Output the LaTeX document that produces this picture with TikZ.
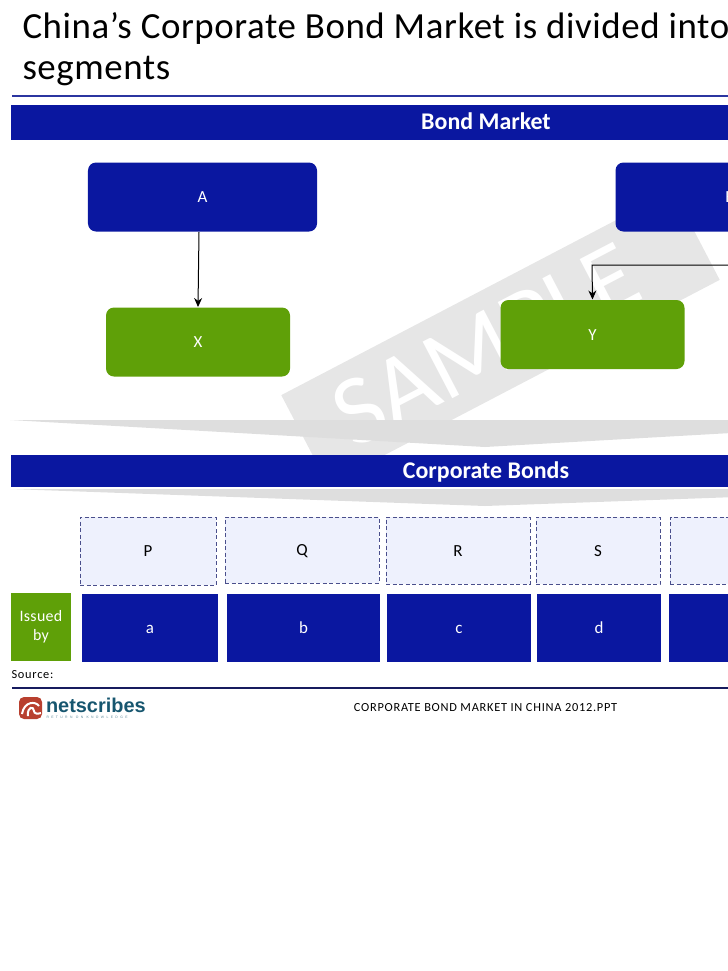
\documentclass[tikz,border=0pt]{standalone}
\usepackage{fontspec}
\setmainfont{Carlito}
\newfontfamily\logofont{Liberation Sans}
\usetikzlibrary{arrows.meta, positioning}
\definecolor{cnavy}{HTML}{0A17A0}
\definecolor{cgreen}{HTML}{5FA008}
\definecolor{cdash}{HTML}{4A4F8C}
\definecolor{cpale}{HTML}{EEF1FD}
\definecolor{cshade}{HTML}{DEDEDE}
\definecolor{cmark}{HTML}{E6E6E6}
\definecolor{crule}{HTML}{2B35A0}
\definecolor{cfoot}{HTML}{161B5E}
\definecolor{cred}{HTML}{B8402F}
\definecolor{cteal}{HTML}{17566F}
\tikzset{
  every picture/.style={x=1bp, y=-1bp, line width=1bp},
  label/.style={font=\fontsize{17}{20}\selectfont, text height=11bp, text depth=0bp, inner sep=0pt},
  band/.style={fill=cnavy, text=white, font=\fontsize{24}{28}\selectfont\bfseries, text height=17bp, text depth=2bp, minimum height=#1, inner sep=0pt},
  band/.default=35bp,
  bluebox/.style={label, fill=cnavy, text=white, rounded corners=8bp, minimum width=229bp, minimum height=69bp},
  greenbox/.style={label, fill=cgreen, text=white, rounded corners=8bp, minimum height=69bp},
  segbox/.style={label, fill=cpale, draw=cdash, dash pattern=on 4bp off 2.5bp, line width=0.9bp},
  issuebox/.style={label, fill=cnavy, text=white},
  shade/.style={fill=cshade, draw=none},
  arrow/.style={-{Stealth[length=9bp, width=8bp]}, draw=black, line width=1bp},
  note/.style={font=\fontsize{12.4}{14}\selectfont\addfontfeature{LetterSpace=6}, inner sep=0pt},
}

\begin{document}
\begin{tikzpicture}
  \clip (0,0) rectangle (728,971);
  \node[fill=cmark, rotate=27.6, minimum width=442bp, minimum height=101bp, inner sep=0pt] (mark) at (500.5,337.5) {};
  \node[text=white, rotate=27.6, font=\fontsize{100}{100}\selectfont, inner sep=0pt] (sample) at (486,345) {SAMPLE};
  \node[anchor=west, inner sep=0pt, font=\fontsize{37}{37}\selectfont\addfontfeature{LetterSpace=1.6}] (title) at (22,28) {China’s Corporate Bond Market is divided into};
  \node[anchor=west, inner sep=0pt, font=\fontsize{37}{37}\selectfont\addfontfeature{LetterSpace=1.6}] (title2) at (22,71) {segments};
  \node[fill=crule, anchor=west, minimum width=960bp, minimum height=1.5bp, inner sep=0pt] (toprule) at (11,96) {};
  \node[band, minimum width=950bp] (market) at (486,122) {Bond Market};

  \node[bluebox] (a) at (202.5,197) {A};
  \node[bluebox] (b) at (730,197) {B};
  \node[greenbox, minimum width=184bp] (x) at (198,342) {X};
  \node[greenbox, minimum width=184bp] (y) at (592.5,334.5) {Y};
  \coordinate (ykink) at (592,265);
  \draw[arrow] ([xshift=-3.5bp]a.south) -- (x.north);
  \draw[arrow] (b.south) |- (ykink) -- (y.north);

  \fill[shade] (10,420) -- (960,420) -- (485,447) -- cycle;
  \node[band=32bp, minimum width=950bp] (bonds) at (486,471) {Corporate Bonds};
  \fill[shade] (10,489) -- (960,489) -- (485,506) -- cycle;

  \foreach \n/\x/\w/\h/\t in {p/148/136/68/P, q/302/154/66/Q, r/458/144/67/R, s/598/124/67/S, t/730/120/67/{}} {
    \node[segbox, minimum width=\w bp, minimum height=\h bp] (\n) at (\x,517+\h/2) {\t};
  }
  \foreach \n/\x/\w/\t in {aa/150/136/a, bb/303.5/153/b, cc/459/144/c, dd/599/124/d, ee/730/122/{}} {
    \node[issuebox, minimum width=\w bp, minimum height=68bp] (\n) at (\x,628) {\t};
  }
  \node[fill=cgreen, text=white, inner sep=0pt, minimum width=60bp, minimum height=68bp, align=center, font=\fontsize{16}{19}\selectfont\addfontfeature{LetterSpace=2}] (issued) at (41,627) {Issued\\by};

  \node[note, anchor=west] (source) at (11,675) {Source:};
  \node[fill=cfoot, anchor=west, minimum width=960bp, minimum height=2bp, inner sep=0pt] (footrule) at (11,688) {};
  \node[note] (deck) at (485.5,708) {CORPORATE BOND MARKET IN CHINA 2012.PPT};

  \node[fill=cred, rounded corners=5bp, minimum width=23bp, minimum height=22bp, inner sep=0pt] (icon) at (30.5,708) {};
  \draw[white, line width=2bp] (22,714) .. controls (24,701) and (36,701) .. (39,706);
  \draw[white, line width=2bp] (28,716) .. controls (27,706) and (34,706) .. (34,711) .. controls (34,714) and (38,714) .. (41,713);
  \node[anchor=west, text=cteal, inner sep=0pt, font=\logofont\fontsize{20}{20}\selectfont\bfseries] (logo) at (45.5,705.5) {netscribes};
  \node[anchor=west, text=cteal!70, inner sep=0pt, font=\logofont\fontsize{3.4}{4}\selectfont\addfontfeature{LetterSpace=70}] (tagline) at (46,717.5) {RETURN ON KNOWLEDGE};
\end{tikzpicture}
\end{document}
